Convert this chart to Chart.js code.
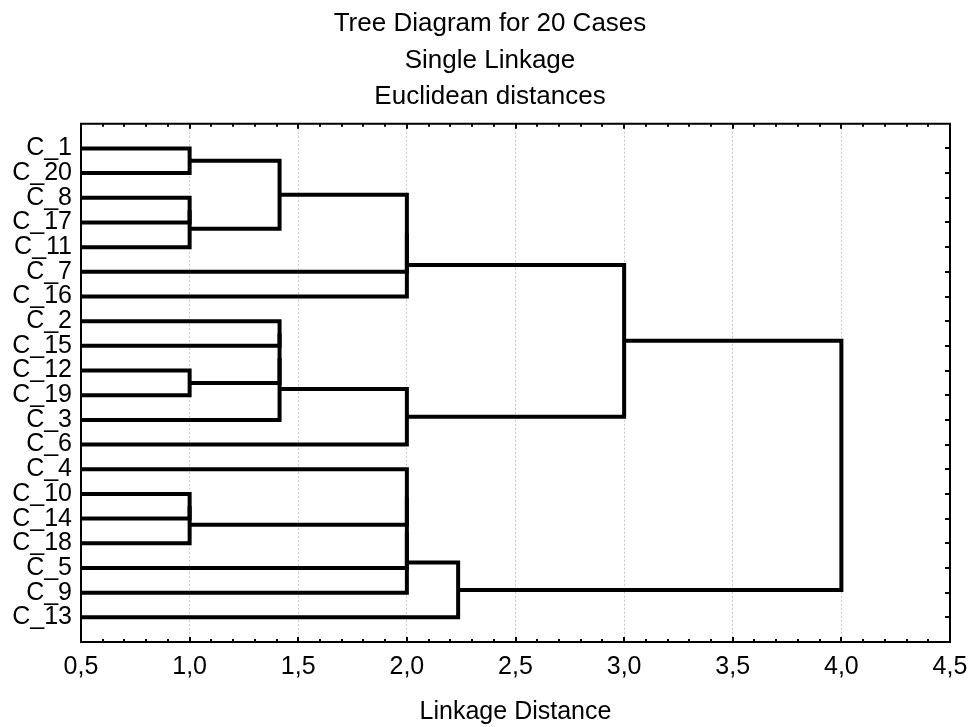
<!DOCTYPE html>
<html lang="en">
<head>
  <meta charset="UTF-8" />
  <title>Tree Diagram for 20 Cases</title>
  <style>
    *{box-sizing:border-box}
    body{margin:0;background:#fff}
    #wrap{width:971px;height:727px;position:relative}
  </style>
</head>
<body>
  <div id="wrap"><canvas id="tree"></canvas></div>

  <script src="https://cdn.jsdelivr.net/npm/chart.js"></script>
  <script>
  // leaves, top to bottom
  const leaves = ['C_1','C_20','C_8','C_17','C_11','C_7','C_16','C_2','C_15','C_12','C_19','C_3','C_6','C_4','C_10','C_14','C_18','C_5','C_9','C_13'];

  // merges: joinA[i] + joinB[i] at joinHeight[i]; 'M<n>' is merge number n
  const joinA      = ['C_1','C_8','M1','M0','M3','M4','C_12','C_2','M7','M8','M9','M5','C_10','M12','C_4','M14','M15','M16','M11'];
  const joinB      = ['C_20','C_17','C_11','M2','C_7','C_16','C_19','C_15','M6','C_3','C_6','M10','C_14','C_18','M13','C_5','C_9','C_13','M17'];
  const joinHeight = [1.0, 1.0, 1.0, 1.414, 2.0, 2.0, 1.0, 1.414, 1.414, 1.414, 2.0, 3.0, 1.0, 1.0, 2.0, 2.0, 2.0, 2.236, 4.0];

  const xMin = 0.5, xMax = 4.5, xStep = 0.5, xMinor = 0.1;
  const titleLines = ['Tree Diagram for 20 Cases', 'Single Linkage', 'Euclidean distances'];
  const xTitle = 'Linkage Distance';

  const FONT = "'Liberation Sans', Arial, sans-serif";

  // position / height of each node
  const pos = {}, hgt = {};
  leaves.forEach((l, i) => { pos[l] = i; hgt[l] = xMin; });
  const datasets = joinA.map((a, i) => {
    const b = joinB[i], h = joinHeight[i];
    pos['M' + i] = (pos[a] + pos[b]) / 2;
    hgt['M' + i] = h;
    return {
      data: [
        { x: hgt[a], y: pos[a] }, { x: h, y: pos[a] },
        { x: h, y: pos[b] }, { x: hgt[b], y: pos[b] }
      ],
      showLine: true, borderColor: '#000', borderWidth: 4,
      borderJoinStyle: 'miter', pointRadius: 0, tension: 0, clip: 6
    };
  });

  // frame plus inward tick marks
  const frameTicks = {
    id: 'frameTicks',
    afterLayout(chart) {
      // title sits a bit right of the page centre
      chart.titleBlock.left = 30;
    },
    afterDatasetsDraw(chart) {
      const { ctx, chartArea: a, scales: { x, y } } = chart;
      ctx.save();
      ctx.strokeStyle = '#000';
      ctx.lineWidth = 2;
      ctx.beginPath();
      const n = Math.round((xMax - xMin) / xMinor);
      for (let i = 0; i <= n; i++) {
        const px = Math.round(x.getPixelForValue(xMin + i * xMinor));
        const len = (i % Math.round(xStep / xMinor) === 0) ? 5 : 3;
        ctx.moveTo(px, a.bottom); ctx.lineTo(px, a.bottom - len);
        ctx.moveTo(px, a.top); ctx.lineTo(px, a.top + len);
      }
      leaves.forEach((l, i) => {
        const py = Math.round(y.getPixelForValue(i));
        ctx.moveTo(a.right, py); ctx.lineTo(a.right - 5, py);
      });
      ctx.stroke();
      ctx.strokeRect(a.left, a.top, a.right - a.left, a.bottom - a.top);
      ctx.restore();
    }
  };

  new Chart(document.getElementById('tree'), {
    type: 'scatter',
    data: { datasets },
    plugins: [frameTicks],
    options: {
      responsive: true,
      maintainAspectRatio: false,
      animation: false,
      layout: { padding: { left: 12, right: 21, top: 0, bottom: 0 } },
      plugins: {
        legend: { display: false },
        tooltip: { enabled: false },
        title: {
          display: true, text: titleLines, color: '#000',
          font: { family: FONT, size: 26, weight: 'normal', lineHeight: 1.42 },
          padding: { top: 5, bottom: 8 }
        }
      },
      scales: {
        x: {
          type: 'linear', min: xMin, max: xMax,
          border: { display: false, dash: [2, 2] },
          grid: { color: '#c8c8c8', lineWidth: 1, drawTicks: false },
          afterFit: s => { s.paddingLeft = 0; s.paddingRight = 0; },
          ticks: {
            stepSize: xStep, padding: 10, color: '#000',
            font: { family: FONT, size: 25 },
            callback: v => v.toFixed(1).replace('.', ',')
          },
          title: {
            display: true, text: xTitle, color: '#000',
            font: { family: FONT, size: 25 }, padding: { top: 5, bottom: 0 }
          }
        },
        y: {
          type: 'linear', min: -1, max: leaves.length, reverse: true,
          border: { display: false },
          grid: { display: false, drawTicks: false },
          afterBuildTicks: s => { s.ticks = leaves.map((l, i) => ({ value: i })); },
          afterFit: s => { s.width = 69; },
          ticks: {
            padding: 9, color: '#000', autoSkip: false,
            font: { family: FONT, size: 25, lineHeight: 1 },
            callback: v => leaves[v] ?? ''
          }
        }
      }
    }
  });
  </script>
</body>
</html>
